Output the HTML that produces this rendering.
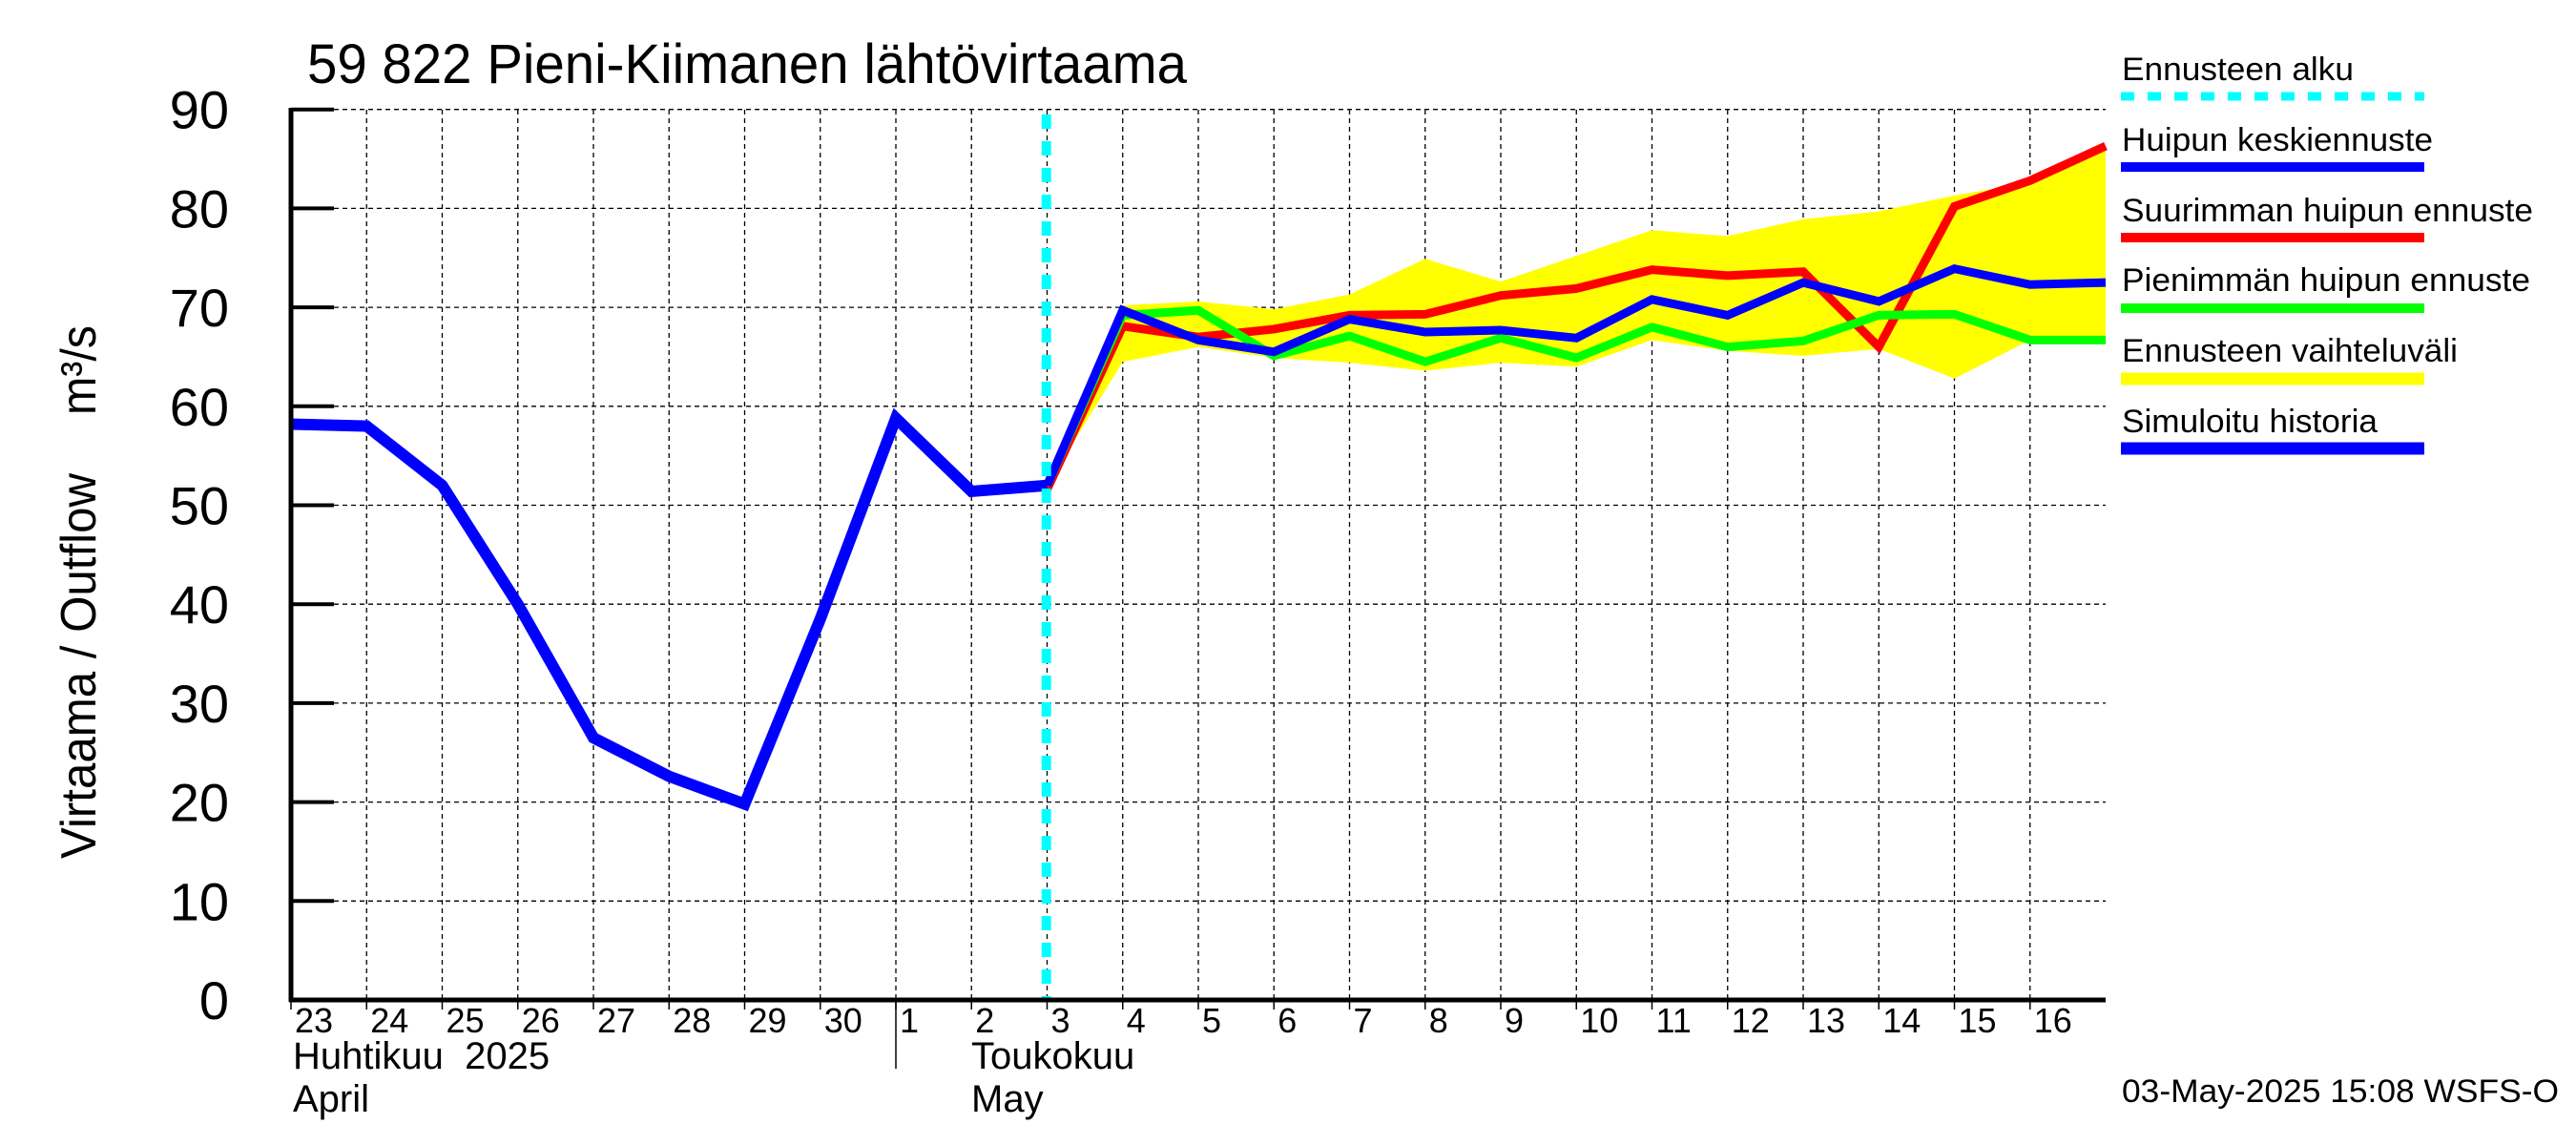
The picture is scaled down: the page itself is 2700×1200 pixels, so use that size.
<!DOCTYPE html>
<html><head><meta charset="utf-8"><style>
html,body{margin:0;padding:0;background:#fff;}
svg{display:block;font-family:"Liberation Sans",sans-serif;}
</style></head><body>
<svg id="chart" width="2700" height="1200" viewBox="0 0 2700 1200" xmlns="http://www.w3.org/2000/svg">
<rect x="0" y="0" width="2700" height="1200" fill="#fff"/>
<text x="322" y="87" font-size="58" textLength="922" lengthAdjust="spacingAndGlyphs">59 822 Pieni-Kiimanen lähtövirtaama</text>
<g id="grid"></g>
<g id="band"></g>
<g id="lines"></g>
<g id="axes"></g>
<text transform="translate(100,698) rotate(-90)" text-anchor="middle" font-size="52" textLength="404" lengthAdjust="spacingAndGlyphs">Virtaama / Outflow</text>
<text transform="translate(100,388) rotate(-90)" text-anchor="middle" font-size="52" textLength="94" lengthAdjust="spacingAndGlyphs">m³/s</text>
<text x="307" y="1120" font-size="40" xml:space="preserve">Huhtikuu  2025</text>
<text x="307" y="1165" font-size="40">April</text>
<text x="1018" y="1120" font-size="40">Toukokuu</text>
<text x="1018" y="1165" font-size="40">May</text>
<line x1="939" y1="1048" x2="939" y2="1120" stroke="#000" stroke-width="1.5"/>
<g>
<text x="2224" y="84" font-size="34" textLength="243" lengthAdjust="spacingAndGlyphs">Ennusteen alku</text>
<line x1="2223" y1="101" x2="2541" y2="101" stroke="#00ffff" stroke-width="9" stroke-dasharray="14 14"/>
<text x="2224" y="158" font-size="34" textLength="326" lengthAdjust="spacingAndGlyphs">Huipun keskiennuste</text>
<line x1="2223" y1="175" x2="2541" y2="175" stroke="#0000ff" stroke-width="10"/>
<text x="2224" y="232" font-size="34" textLength="431" lengthAdjust="spacingAndGlyphs">Suurimman huipun ennuste</text>
<line x1="2223" y1="249" x2="2541" y2="249" stroke="#ff0000" stroke-width="10"/>
<text x="2224" y="305" font-size="34" textLength="428" lengthAdjust="spacingAndGlyphs">Pienimmän huipun ennuste</text>
<line x1="2223" y1="323" x2="2541" y2="323" stroke="#00ff00" stroke-width="10"/>
<text x="2224" y="379" font-size="34" textLength="352" lengthAdjust="spacingAndGlyphs">Ennusteen vaihteluväli</text>
<line x1="2223" y1="397" x2="2541" y2="397" stroke="#ffff00" stroke-width="13"/>
<text x="2224" y="453" font-size="34" textLength="268" lengthAdjust="spacingAndGlyphs">Simuloitu historia</text>
<line x1="2223" y1="470" x2="2541" y2="470" stroke="#0000ff" stroke-width="13"/>
</g>
<text x="2224" y="1155" font-size="34" textLength="458" lengthAdjust="spacingAndGlyphs">03-May-2025 15:08 WSFS-O</text>
</svg>
<script>
const yTicks = [0,10,20,30,40,50,60,70,80,90];
const dayLabels = ["23","24","25","26","27","28","29","30","1","2","3","4","5","6","7","8","9","10","11","12","13","14","15","16"];
const historyDays = [0,1,2,3,4,5,6,7,8,9,10];
const historyValues = [58.2,58.0,52.0,40.0,26.5,22.6,19.8,38.5,58.8,51.4,52.0];
const forecastDays = [10,11,12,13,14,15,16,17,18,19,20,21,22,23,24];
const meanPeak = [52.0,69.7,66.7,65.5,68.8,67.5,67.7,66.9,70.8,69.2,72.5,70.6,73.9,72.3,72.5];
const maxPeak = [51.6,68.1,67.0,67.8,69.2,69.3,71.2,71.9,73.8,73.2,73.6,66.0,80.2,82.8,86.3];
const minPeak = [52.0,69.2,69.7,65.1,67.1,64.5,66.9,64.9,68.0,66.0,66.6,69.2,69.3,66.7,66.7];
const rangeUpper = [52.0,70.2,70.6,69.8,71.3,74.9,72.6,75.2,77.8,77.2,78.9,79.7,81.3,82.6,86.3];
const rangeLower = [52.0,64.5,66.0,64.9,64.4,63.6,64.4,64.0,66.7,65.6,65.1,65.8,62.8,66.7,66.7];
const forecastStartDay = 9.99;

const X0=305, DX=79.25, Y0=1048, DY=10.37, XR=2207, YT=115;
function xs(d){return X0+d*DX;}
function ys(v){return Y0-v*DY;}
const NS="http://www.w3.org/2000/svg";
function mk(tag,attrs,parent){const e=document.createElementNS(NS,tag);for(const k in attrs)e.setAttribute(k,attrs[k]);parent.appendChild(e);return e;}
const grid=document.getElementById('grid'), axes=document.getElementById('axes');
const band=document.getElementById('band'), lines=document.getElementById('lines');

yTicks.forEach(v=>{
  const g=mk('line',{x1:X0,x2:XR,y1:ys(v),y2:ys(v),stroke:'#000','stroke-width':1.3,'stroke-dasharray':'5 4'},grid);
  
  
  const t=mk('line',{x1:X0,x2:X0+45,y1:ys(v),y2:ys(v),stroke:'#000','stroke-width':4},axes);
  
  
  const l=mk('text',{x:240,y:ys(v)+20,'text-anchor':'end','font-size':56},axes);
  l.textContent=String(v);
  
  
});
dayLabels.forEach((lab,i)=>{
  const x=xs(i);
  if(i>0){
    const g=mk('line',{x1:x,x2:x,y1:YT,y2:Y0,stroke:'#000','stroke-width':1.3,'stroke-dasharray':'5 4'},grid);
    
    
  }
  const tk=mk('line',{x1:x,x2:x,y1:Y0,y2:Y0+10,stroke:'#000','stroke-width':1.5},axes);
  
  
  const t=mk('text',{x:x+4,y:1082,'font-size':36},axes);
  t.textContent=lab;
  
  
});
const ax1=mk('line',{x1:X0,x2:X0,y1:YT-2,y2:Y0+2,stroke:'#000','stroke-width':5},axes);


const ax2=mk('line',{x1:X0-2,x2:XR,y1:Y0,y2:Y0,stroke:'#000','stroke-width':5},axes);



let pts=forecastDays.map((d,i)=>xs(d)+','+ys(rangeUpper[i]));
for(let i=forecastDays.length-1;i>=0;i--)pts.push(xs(forecastDays[i])+','+ys(rangeLower[i]));
const poly=mk('polygon',{points:pts.join(' '),fill:'#ffff00',stroke:'none'},band);



function series(days,vals,color,w,name){
  const p=mk('polyline',{points:days.map((d,i)=>xs(d)+','+ys(vals[i])).join(' '),fill:'none',stroke:color,'stroke-width':w,'stroke-linejoin':'miter'},lines);
  
  
}
series(forecastDays,maxPeak,'#ff0000',9,'max-peak-line');
series(forecastDays,minPeak,'#00ff00',9,'min-peak-line');
series(forecastDays,meanPeak,'#0000ff',9,'mean-peak-line');
series(historyDays,historyValues,'#0000ff',12,'simulated-history-line');

const cy=mk('line',{x1:xs(forecastStartDay),x2:xs(forecastStartDay),y1:YT+5,y2:Y0,stroke:'#00ffff','stroke-width':10,'stroke-dasharray':'15 13'},lines);


</script>
</body></html>
